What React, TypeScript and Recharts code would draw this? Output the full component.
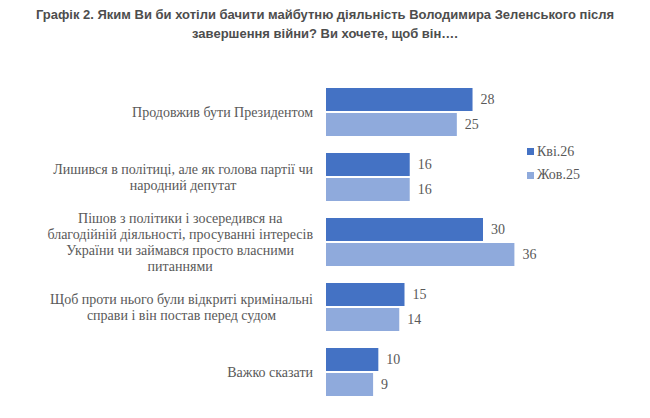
import React from "react";
import { BarChart, Bar, XAxis, YAxis, LabelList } from "recharts";

const categories = [
  ["Продовжив бути Президентом"],
  ["Лишився в політиці, але як голова партії чи", "народний депутат"],
  [
    "Пішов з політики і зосередився на",
    "благодійній діяльності, просуванні інтересів",
    "України чи займався просто власними",
    "питаннями",
  ],
  ["Щоб проти нього були відкриті кримінальні", "справи і він постав перед судом"],
  ["Важко сказати"],
];
const apr26 = [28, 16, 30, 15, 10];
const oct25 = [25, 16, 36, 14, 9];
const seriesNames = ["Кві.26", "Жов.25"];
const seriesColors = ["#4472C4", "#8FAADC"];

const data = categories.map((lines, i) => ({
  label: lines.join("\n"),
  apr26: apr26[i],
  oct25: oct25[i],
}));

const SERIF = "'Liberation Serif', 'Times New Roman', serif";
const TICK_SIZE = 14;
const GREY = "#595959";

let ctx: CanvasRenderingContext2D | null = null;
const textWidth = (s: string) => {
  if (!ctx) ctx = document.createElement("canvas").getContext("2d");
  if (!ctx) return s.length * 6;
  ctx.font = `${TICK_SIZE}px ${SERIF}`;
  return ctx.measureText(s).width;
};

// multi-line category label, lines centred inside a right-aligned block
const CategoryTick = (props: any) => {
  const { x, y, payload } = props;
  const lines: string[] = String(payload.value).split("\n");
  const maxW = Math.max(...lines.map(textWidth));
  const right = x - 5;
  const cx = right - maxW / 2;
  const lh = 16;
  const top = y - ((lines.length - 1) * lh) / 2;
  return (
    <text
      textAnchor="middle"
      fill={GREY}
      fontFamily={SERIF}
      fontSize={TICK_SIZE}
      dominantBaseline="central"
    >
      {lines.map((l, i) => (
        <tspan key={i} x={cx} y={top + i * lh}>
          {l}
        </tspan>
      ))}
    </text>
  );
};

const labelStyle = { fontFamily: SERIF, fontSize: 14, fill: GREY };

export default function App() {
  return (
    <div
      style={{
        position: "absolute",
        left: 0,
        top: 0,
        width: 650,
        height: 418,
        background: "#fff",
      }}
    >
      <div
        style={{
          position: "absolute",
          top: 5,
          left: 0,
          width: 650,
          textAlign: "center",
          fontFamily: "'Liberation Sans', Arial, sans-serif",
          fontWeight: "bold",
          fontSize: 13,
          lineHeight: "19px",
          color: "#4d4d4d",
        }}
      >
        Графік 2. Яким Ви би хотіли бачити майбутню діяльність Володимира Зеленського після
        <br />
        завершення війни? Ви хочете, щоб він….
      </div>
      <BarChart
        width={650}
        height={418}
        data={data}
        layout="vertical"
        margin={{ top: 79, right: 10, bottom: 14, left: 0 }}
        barSize={23}
        barGap={2}
      >
        <XAxis type="number" domain={[0, 60]} hide />
        <YAxis
          type="category"
          dataKey="label"
          width={326}
          tick={<CategoryTick />}
          tickLine={false}
          axisLine={false}
          interval={0}
        />
        <Bar dataKey="apr26" name={seriesNames[0]} fill={seriesColors[0]} isAnimationActive={false}>
          <LabelList dataKey="apr26" position="right" offset={8} style={labelStyle} />
        </Bar>
        <Bar dataKey="oct25" name={seriesNames[1]} fill={seriesColors[1]} isAnimationActive={false}>
          <LabelList dataKey="oct25" position="right" offset={8} style={labelStyle} />
        </Bar>
      </BarChart>
      <div
        style={{
          position: "absolute",
          left: 527,
          top: 140,
          fontFamily: SERIF,
          fontSize: 14,
          color: GREY,
        }}
      >
        {seriesNames.map((n, i) => (
          <div key={n} style={{ display: "flex", alignItems: "center", height: 23.5 }}>
            <span
              style={{
                display: "inline-block",
                width: 7,
                height: 7,
                background: seriesColors[i],
                marginRight: 3,
              }}
            />
            {n}
          </div>
        ))}
      </div>
    </div>
  );
}
